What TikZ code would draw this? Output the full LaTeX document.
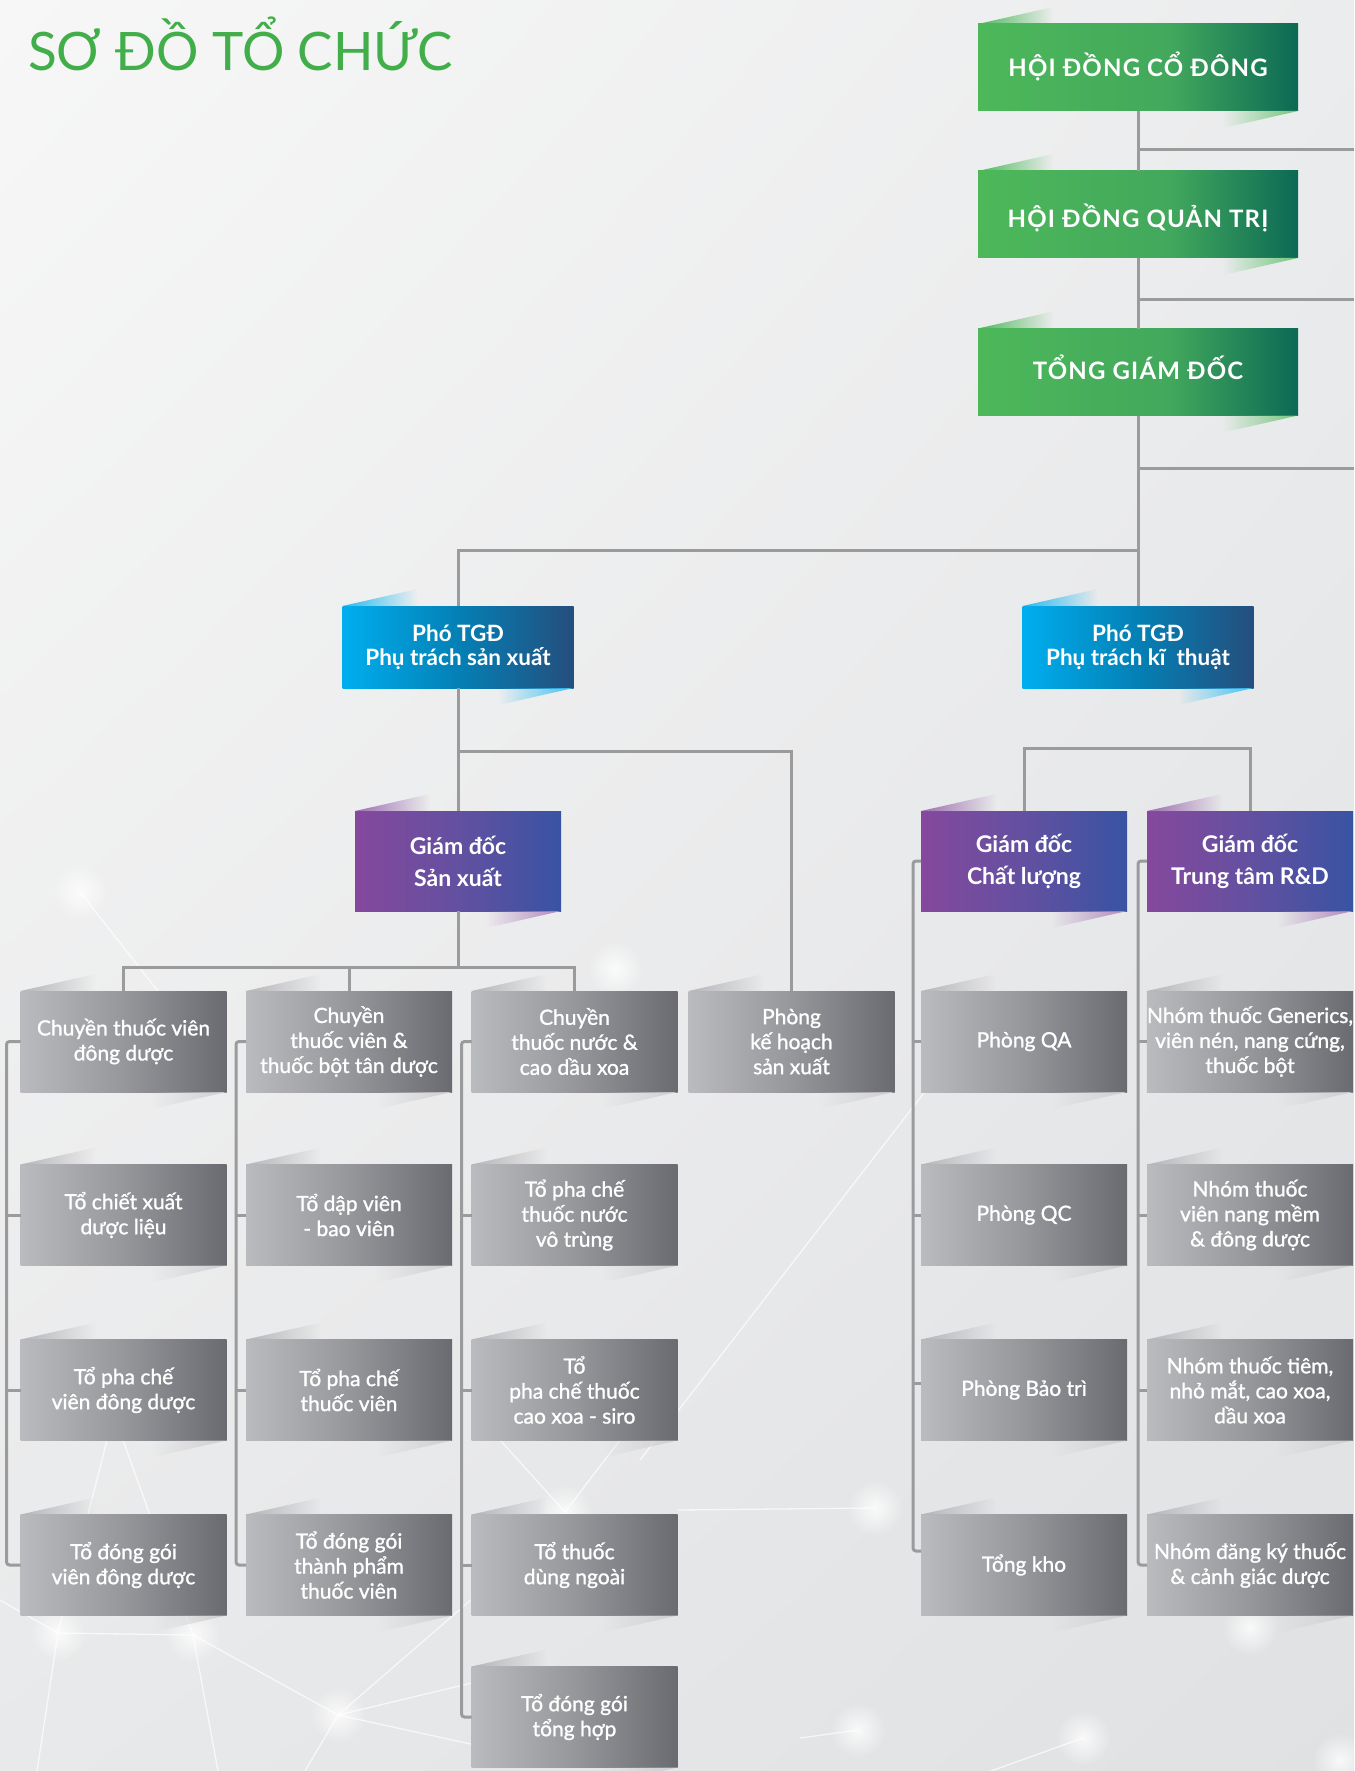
\documentclass[tikz,border=0pt]{standalone}
\usepackage{fontspec}
\setmainfont{Lato}
\newfontfamily\latogreen{Lato}[LetterSpace=5]
\newfontfamily\latomed{Lato}[FakeBold=1.2]
\usetikzlibrary{fadings,shadings}

\definecolor{titlegreen}{HTML}{41AE49}
\definecolor{linegray}{HTML}{9A9B9D}
\definecolor{grA}{HTML}{4DB85A}
\definecolor{grB}{HTML}{42A85C}
\definecolor{grC}{HTML}{0C6955}
\definecolor{blA}{HTML}{00AEEF}
\definecolor{blB}{HTML}{0480B5}
\definecolor{blC}{HTML}{254E7D}
\definecolor{puA}{HTML}{85489D}
\definecolor{puB}{HTML}{6350A0}
\definecolor{puC}{HTML}{3953A3}
\definecolor{gyA}{HTML}{BABBBE}
\definecolor{gyB}{HTML}{96979B}
\definecolor{gyC}{HTML}{6A6B70}
\definecolor{bgUL}{HTML}{F7F7F7}
\definecolor{bgUR}{HTML}{EBECED}
\definecolor{bgLL}{HTML}{E8E9EA}
\definecolor{bgLR}{HTML}{E0E1E3}

\pgfdeclarehorizontalshading{greensh}{100bp}{color(0bp)=(grA); color(25bp)=(grA); color(55bp)=(grB); color(75bp)=(grC); color(100bp)=(grC)}
\pgfdeclarehorizontalshading{bluesh}{100bp}{color(0bp)=(blA); color(25bp)=(blA); color(50bp)=(blB); color(75bp)=(blC); color(100bp)=(blC)}
\pgfdeclarehorizontalshading{purplesh}{100bp}{color(0bp)=(puA); color(25bp)=(puA); color(50bp)=(puB); color(75bp)=(puC); color(100bp)=(puC)}
\pgfdeclarehorizontalshading{graysh}{100bp}{color(0bp)=(gyA); color(25bp)=(gyA); color(50bp)=(gyB); color(75bp)=(gyC); color(100bp)=(gyC)}

\tikzfading[name=fadeR, left color=transparent!0, right color=transparent!100]
\tikzfading[name=fadeL, left color=transparent!100, right color=transparent!0]
\tikzfading[name=glowf, inner color=transparent!20, outer color=transparent!100]

\newcommand\flaps[3]{%
  \fill[#2, path fading=fadeR] (#1.north west) -- ++(75,-17) -- ++(0,17) -- cycle;
  \fill[#3, path fading=fadeL] (#1.south east) -- ++(-75,17) -- ++(0,-17) -- cycle;}

\tikzset{
  anybox/.style={shade, inner sep=0pt, outer sep=0pt, text=white, align=center},
  gbox/.style={anybox, shading=greensh, minimum width=320pt, minimum height=87pt,
    text height=19pt, text depth=0pt,
    font=\latogreen\bfseries\fontsize{24}{28}\selectfont},
  bbox/.style={anybox, shading=bluesh, minimum width=231pt, minimum height=82pt,
    font=\bfseries\fontsize{22.5}{24}\selectfont},
  pbox/.style={anybox, shading=purplesh, minimum width=206pt, minimum height=100pt,
    font=\bfseries\fontsize{23}{32}\selectfont},
  xbox/.style={anybox, shading=graysh, minimum width=206pt, minimum height=101pt,
    font=\latomed\fontsize{21}{25}\selectfont},
  conn/.style={draw=linegray, line width=3pt},
  deco/.style={draw=white, line width=1.3pt, opacity=0.7},
}

\begin{document}
\begin{tikzpicture}[x=1pt,y=-1pt]
\useasboundingbox (0,0) rectangle (1354,1771);
\shade[upper left=bgUL, upper right=bgUR, lower left=bgLL, lower right=bgLR] (0,0) rectangle (1354,1771);

% decorative background network
\draw[deco] (80,892) -- (165,1000);
\draw[deco] (0,1600) -- (58,1633) -- (193,1635) -- (338,1715);
\draw[deco] (58,1633) -- (37,1771);
\draw[deco] (193,1635) -- (218,1771);
\draw[deco] (107,1440) -- (58,1633);
\draw[deco] (123,1440) -- (193,1635);
\draw[deco] (338,1715) -- (480,1592);
\draw[deco] (338,1715) -- (480,1681);
\draw[deco] (338,1715) -- (480,1746);
\draw[deco] (338,1715) -- (305,1771);
\draw[deco] (500,1440) -- (565,1512) -- (620,1440);
\draw[deco] (640,1460) -- (930,1085);
\draw[deco] (678,1510) -- (875,1508);
\draw[deco] (800,1738) -- (858,1730);
\draw[deco] (991,1771) -- (1083,1738);
\foreach \p in {(80,892),(58,1633),(193,1635),(338,1715),(875,1508),(1083,1738),(615,969),(565,1512),(858,1730),(1340,1760),(1250,1628)}
  \fill[white, path fading=glowf] \p circle (28);

% title
\node[anchor=base west, text=titlegreen, inner sep=0pt, font=\fontsize{53}{60}\selectfont] (title) at (28,71) {SƠ ĐỒ TỔ CHỨC};

% top level
\node[gbox] (g1) at (1138,67.5) {HỘI ĐỒNG CỔ ĐÔNG};
\node[gbox, text height=27pt] (g2) at (1138,214.5) {HỘI ĐỒNG QUẢN TRỊ};
\node[gbox, text height=15pt] (g3) at (1138,372) {TỔNG GIÁM ĐỐC};
\flaps{g1}{grA}{grA!80}
\flaps{g2}{grA}{grA!80}
\flaps{g3}{grA}{grA!80}

\node[bbox] (b1) at (458,647) {Phó TGĐ\\Phụ trách sản xuất};
\node[bbox] (b2) at (1138,647) {Phó TGĐ\\Phụ trách kĩ\ \ thuật};
\flaps{b1}{blA!85}{blA!75}
\flaps{b2}{blA!85}{blA!75}

\node[pbox] (p1) at (458,861) {Giám đốc\\Sản xuất};
\node[pbox] (p2) at (1024,861) {Giám đốc\\Chất lượng};
\node[pbox] (p3) at (1250,861) {Giám đốc\\Trung tâm R\&D};
\flaps{p1}{puA!80}{puA!65}
\flaps{p2}{puA!80}{puA!65}
\flaps{p3}{puA!80}{puA!65}

% column 1
\node[xbox] (c11) at (123.5,1041.5) {Chuyền thuốc viên\\đông dược};
\node[xbox] (c12) at (123.5,1215) {Tổ chiết xuất\\dược liệu};
\node[xbox] (c13) at (123.5,1390) {Tổ pha chế\\viên đông dược};
\node[xbox] (c14) at (123.5,1565) {Tổ đóng gói\\viên đông dược};
% column 2
\node[xbox] (c21) at (349,1041.5) {Chuyền\\thuốc viên \&\\thuốc bột tân dược};
\node[xbox] (c22) at (349,1215) {Tổ dập viên\\- bao viên};
\node[xbox] (c23) at (349,1390) {Tổ pha chế\\thuốc viên};
\node[xbox] (c24) at (349,1565) {Tổ đóng gói\\thành phẩm\\thuốc viên};
% column 3
\node[xbox] (c31) at (574.5,1041.5) {Chuyền\\thuốc nước \&\\cao dầu xoa};
\node[xbox] (c32) at (574.5,1215) {Tổ pha chế\\thuốc nước\\vô trùng};
\node[xbox] (c33) at (574.5,1390) {Tổ\\pha chế thuốc\\cao xoa - siro};
\node[xbox] (c34) at (574.5,1565) {Tổ thuốc\\dùng ngoài};
\node[xbox] (c35) at (574.5,1717) {Tổ đóng gói\\tổng hợp};
% column 4
\node[xbox] (kh) at (791.5,1041.5) {Phòng\\kế hoạch\\sản xuất};
% column 5
\node[xbox] (c51) at (1024,1041.5) {Phòng QA};
\node[xbox] (c52) at (1024,1215) {Phòng QC};
\node[xbox] (c53) at (1024,1390) {Phòng Bảo trì};
\node[xbox] (c54) at (1024,1565) {Tổng kho};
% column 6
\node[xbox] (c61) at (1250,1041.5) {Nhóm thuốc Generics,\\viên nén, nang cứng,\\thuốc bột};
\node[xbox] (c62) at (1250,1215) {Nhóm thuốc\\viên nang mềm\\\& đông dược};
\node[xbox] (c63) at (1250,1390) {Nhóm thuốc tiêm,\\nhỏ mắt, cao xoa,\\dầu xoa};
\node[xbox] (c64) at (1250,1565) {Nhóm đăng ký thuốc\\\& cảnh giác dược};

\foreach \n in {c11,c12,c13,c14,c21,c22,c23,c24,c31,c32,c33,c34,c35,kh,c51,c52,c53,c54,c61,c62,c63,c64}
  {\flaps{\n}{gyA!90!gray}{gyA!70}}

% connectors
\coordinate (e1) at (1354,150);
\coordinate (e2) at (1354,299);
\coordinate (e3) at (1354,468);
\coordinate (j1) at (1138,550);
\coordinate (j2) at (458,751);
\coordinate (j3) at (1138,748);
\coordinate (j4) at (458,967);

\draw[conn] (g1.south) -- (g2.north);
\draw[conn] (g2.south) -- (g3.north);
\draw[conn] (g1.south |- e1) -- (e1);
\draw[conn] (g2.south |- e2) -- (e2);
\draw[conn] (g3.south |- e3) -- (e3);
\draw[conn] (g3.south) -- (b2.north);
\draw[conn] (b1.north) |- (j1);

\draw[conn] (b1.south) -- (p1.north);
\draw[conn] (j2) -| (kh.north);
\draw[conn] (p2.north) |- (j3) -| (p3.north);

\draw[conn] (p1.south) -- (j4);
\draw[conn] (c11.north) |- (j4) -| (c31.north);
\draw[conn] (c21.north) -- (c21.north |- j4);

\draw[conn, rounded corners=3pt] (c11.west) -- ++(-14,0) |- (c14.west);
\draw[conn] (c12.west) -- ++(-14,0);
\draw[conn] (c13.west) -- ++(-14,0);

\draw[conn, rounded corners=3pt] (c21.west) -- ++(-10,0) |- (c24.west);
\draw[conn] (c22.west) -- ++(-10,0);
\draw[conn] (c23.west) -- ++(-10,0);

\draw[conn, rounded corners=3pt] (c31.west) -- ++(-10,0) |- (c35.west);
\draw[conn] (c32.west) -- ++(-10,0);
\draw[conn] (c33.west) -- ++(-10,0);
\draw[conn] (c34.west) -- ++(-10,0);

\draw[conn, rounded corners=3pt] (p2.west) -- ++(-8,0) |- ([yshift=14pt]c54.west);
\draw[conn] (c51.west) -- ++(-8,0);
\draw[conn] (c52.west) -- ++(-8,0);
\draw[conn] ([yshift=7pt]c53.west) -- ++(-8,0);

\draw[conn, rounded corners=3pt] (p3.west) -- ++(-9,0) |- (c64.west);
\draw[conn] (c61.west) -- ++(-9,0);
\draw[conn] (c62.west) -- ++(-9,0);
\draw[conn] (c63.west) -- ++(-9,0);
\end{tikzpicture}
\end{document}
